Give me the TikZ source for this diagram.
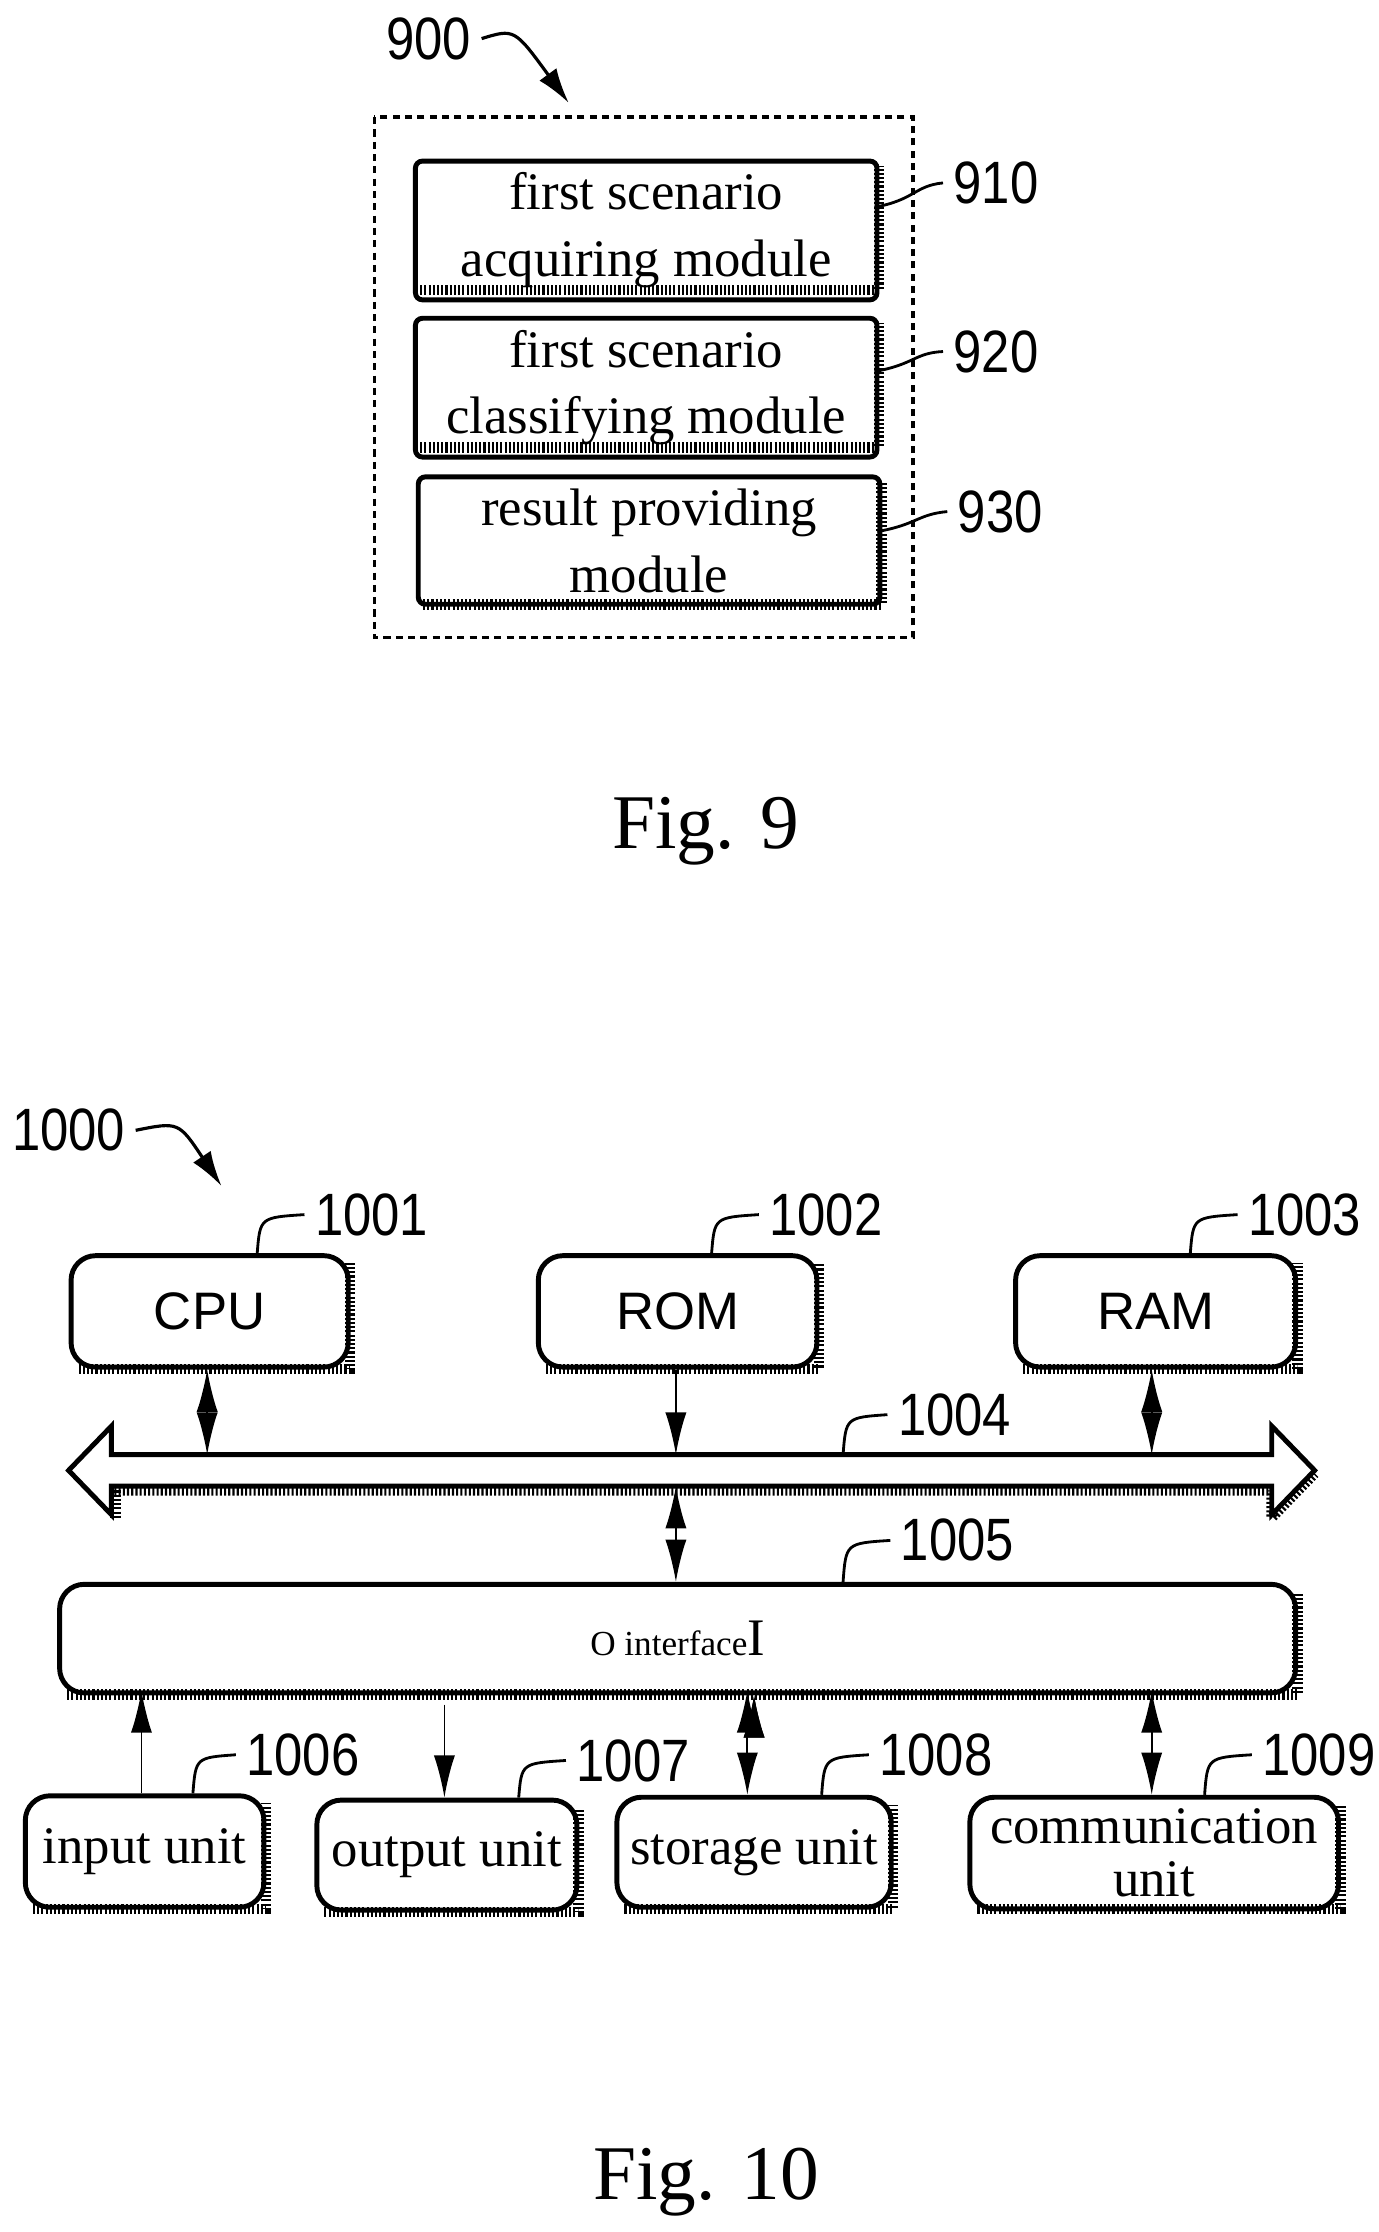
\documentclass[tikz,border=0pt]{standalone}
\usepackage{fontspec}
\setmainfont{Liberation Serif}
\newfontfamily\lab{Liberation Sans}
\usetikzlibrary{arrows.meta}
\begin{document}
\begin{tikzpicture}[x=0.014286cm,y=-0.014286cm,
  box/.style={draw,line width=1.4pt,rounded corners=2pt},
  rbox/.style={draw,line width=1.4pt,rounded corners=7pt},
  shd/.style={line width=3pt,dash pattern=on 0.6pt off 0.6pt},
  txt/.style={font=\fontsize{15}{19}\selectfont,align=center},
  num/.style={font=\lab\fontsize{17}{17}\selectfont,xscale=0.85},
  lead/.style={line width=0.8pt},
  ar/.style={line width=0.5pt,-{Latex[length=12pt,width=6pt]}},
  br/.style={line width=0.5pt,{Latex[length=12pt,width=6pt]}-{Latex[length=12pt,width=6pt]}}]
\useasboundingbox (0,0) rectangle (965,1562);
% Fig 9
\draw[line width=1pt,dash pattern=on 2pt off 1.5pt] (262,82) rectangle (639,446);
\node[num] (n900) at (300,27) {900};
\coordinate (a900) at (398,72);
\draw[-{Latex[length=10pt,width=6pt]},line width=0.9pt] (n900.east) .. controls (360,20) .. (a900);
\foreach \n/\xa/\ya/\xb/\yb/\t in {910/289/111/612/200/{first scenario\\acquiring module},920/289/221/612/310/{first scenario\\classifying module},930/291/332/614/420/{result providing\\module}}{
  \draw[shd] (\xa+5,\yb+3) -- (\xb+3,\yb+3) -- (\xb+3,\ya+5);
  \node[box,txt,minimum width=(\xb-\xa)*0.014286cm,minimum height=(\yb-\ya)*0.014286cm,anchor=north west] (m\n) at (\xa,\ya) {\t};
}
\node[num] (l910) at (697,128) {910};
\node[num] (l920) at (697,246) {920};
\node[num] (l930) at (700,358) {930};
\draw[lead] (612,145) .. controls (640,140) and (640,130) .. (l910.west);
\draw[lead] (612,260) .. controls (640,255) and (640,247) .. (l920.west);
\draw[lead] (614,372) .. controls (642,367) and (642,360) .. (l930.west);
\node[font=\fontsize{22}{22}\selectfont] (f9) at (494,582) {Fig. 9};
% Fig 10
\node[num] (n1000) at (48,791) {1000};
\coordinate (a1000) at (155,830);
\draw[-{Latex[length=10pt,width=6pt]},line width=0.9pt] (n1000.east) .. controls (125,785) .. (a1000);
\foreach \n/\xa/\ya/\xb/\yb/\t/\f in {cpu/48/877/242/955/CPU/\lab,rom/375/877/570/955/ROM/\lab,ram/709/877/905/955/RAM/\lab,io/40/1107/905/1183/I/O interface/\rmfamily,in/16/1255/183/1333/input unit/\rmfamily,out/220/1258/402/1335/output unit/\rmfamily,sto/430/1256/622/1333/storage unit/\rmfamily,com/677/1256/935/1333/{communication\\[-4pt]unit}/\rmfamily}{
  \draw[shd] (\xa+7,\yb+3) -- (\xb+3,\yb+3) -- (\xb+3,\ya+7);
  \node[rbox,txt,font=\f\fontsize{15}{19}\selectfont,minimum width=(\xb-\xa)*0.014286cm,minimum height=(\yb-\ya)*0.014286cm,anchor=north west] (\n) at (\xa,\ya) {\t};
}
% bus
\draw[shd] (80,1043) -- (890,1043) -- (890,1062) -- (920,1031);
\draw[shd] (81,1043) -- (81,1062);
\draw[line width=1.4pt,fill=white] (48,1029) -- (78,998) -- (78,1018) -- (890,1018) -- (890,998) -- (920,1029) -- (890,1060) -- (890,1040) -- (78,1040) -- (78,1060) -- cycle;
\coordinate (bt1) at (145,1018); \coordinate (bt2) at (473,1018); \coordinate (bt3) at (806,1018);
\coordinate (bb) at (473,1040);
\draw[br] (cpu.south -| bt1) -- (bt1);
\draw[ar] (rom.south -| bt2) -- (bt2);
\draw[br] (ram.south -| bt3) -- (bt3);
\draw[br] (bb) -- (io.north -| bb);
\coordinate (o1) at (99,1183); \coordinate (o2) at (311,1193);
\draw[ar] (in.north -| o1) -- (o1);
\draw[ar] (o2) -- (out.north -| o2);
\draw[br] (io.south -| sto.north) ++(-0pt,0) coordinate (s1);
\draw[br] (523,1183) -- (523,1256);
\draw[br] (806,1183) -- (806,1256);
% labels
\foreach \n/\x/\y/\sx/\sy in {1001/260/850/180/877,1002/578/850/498/877,1003/913/850/833/877,1004/668/990/590/1018,1005/670/1078/590/1107,1006/212/1228/135/1255,1007/443/1232/363/1258,1008/655/1228/575/1256,1009/923/1228/843/1256}{
  \node[num] (l\n) at (\x,\y) {\n};
  \draw[lead] (\sx,\sy) .. controls (\sx+2,\y+2) .. (l\n.west);
}
\node[font=\fontsize{22}{22}\selectfont] (f10) at (494,1527) {Fig. 10};
\end{tikzpicture}
\end{document}
